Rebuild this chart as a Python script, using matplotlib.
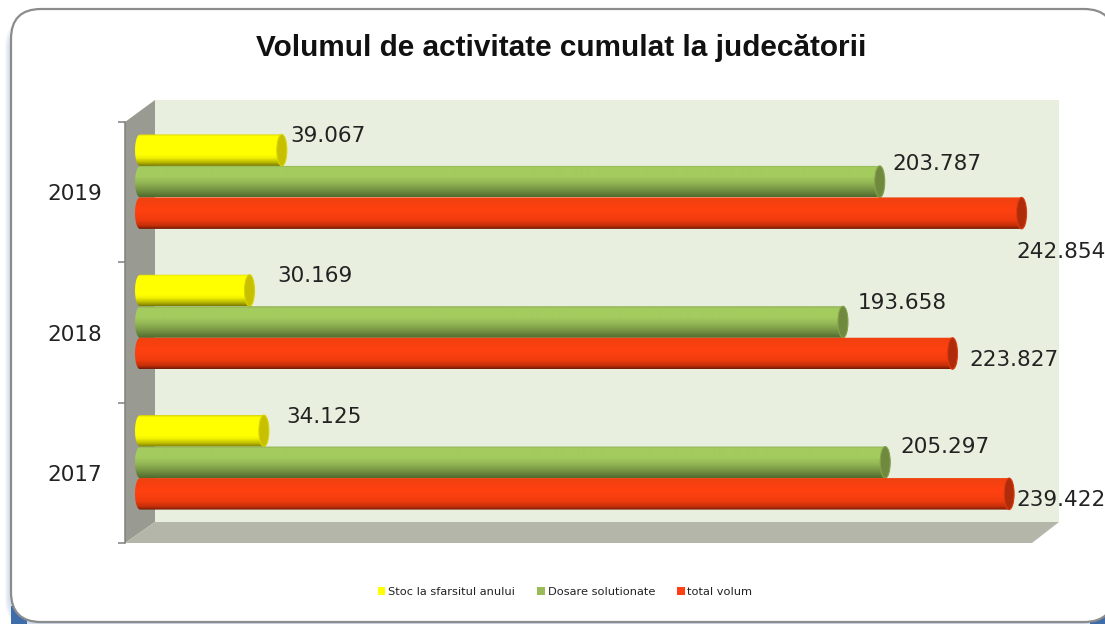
import numpy as np
import matplotlib
matplotlib.use('Agg')
import matplotlib.pyplot as plt
from matplotlib.colors import LinearSegmentedColormap
from matplotlib.patches import Ellipse, FancyBboxPatch, Patch, Polygon, Rectangle

years = ['2017', '2018', '2019']
series_names = ['Stoc la sfarsitul anului', 'Dosare solutionate', 'total volum']
stoc = [34125, 30169, 39067]
dosare = [205297, 193658, 203787]
total = [239422, 223827, 242854]
values = [stoc, dosare, total]

W, H = 1105, 624
title = 'Volumul de activitate cumulat la judecătorii'

# bottom to top shading of the cylinders
swatch = ['#FFFF00', '#9BBB59', '#FF3F0F']
shades = [
    [(0, '#7C7C00'), (0.1, '#B5B500'), (0.25, '#F0F000'), (0.35, '#FFFF00'), (0.94, '#FFFF00'), (1, '#D8D200')],
    [(0, '#4F6B2E'), (0.18, '#6F8C40'), (0.45, '#94B755'), (0.65, '#A3CB5E'), (0.94, '#A3CB5E'), (1, '#8CA850')],
    [(0, '#741C06'), (0.1, '#C42F0A'), (0.28, '#F03C0E'), (0.6, '#FF4110'), (1, '#F0400F')],
]
cap_color = ['#C6C000', '#6F8A3E', '#AE2C0A']
cap_rim = ['#DAD400', '#86A24C', '#E03A10']

# label offsets in pixels from the end of each bar (same order as the values)
label_dx = [[17, 23, 3], [10, 10, 7.5], [2, 12, -10.5]]
label_dy = [[13.5, 15, 14], [15, 19.5, 17.5], [-6.5, -6, -39]]

fig = plt.figure(figsize=(W / 100, H / 100), dpi=100)
plt.rcParams['font.family'] = ['DejaVu Sans']

# background layer in pixel coordinates: panel and 3d walls
bg = fig.add_axes([0, 0, 1, 1])
bg.set_xlim(0, W)
bg.set_ylim(H, 0)
bg.axis('off')

# soft blue shadow round the panel
for k in range(6):
    bg.add_patch(FancyBboxPatch((11 - k - 1, 22 - k), 1103 + 2 * k, 602 + 2 * k,
                                boxstyle='round,pad=0,rounding_size=30',
                                fc='#4F7FBA', ec='none', alpha=0.05))
bg.add_patch(Rectangle((11, 606), 16, 18, fc='#3F6DAA', ec='none'))
bg.add_patch(Rectangle((1090, 604), 15, 20, fc='#3F6DAA', ec='none'))
bg.add_patch(FancyBboxPatch((11, 9), 1103, 613,
                            boxstyle='round,pad=0,rounding_size=30',
                            fc='white', ec='#8C8C8C', lw=1.6))

bg.add_patch(Polygon([(155, 100), (1059, 100), (1059, 522), (155, 522)], fc='#E8EFDF', ec='none'))
bg.add_patch(Polygon([(125, 122), (155, 100), (155, 522), (125, 543)], fc='#999B92', ec='none'))
bg.add_patch(Polygon([(155, 522), (1059, 522), (1032, 543), (125, 543)], fc='#B3B6A8', ec='none'))

# data axes: x=0 sits at pixel 140
px_per_unit = 0.00363
ax = fig.add_axes([125 / W, 1 - 543 / H, (1059 - 125) / W, (543 - 122) / H])
ax.patch.set_alpha(0)
xlim = (-15 / px_per_unit, 919 / px_per_unit)
ylim = (-0.5, 2.5)

px_per_cat = (543 - 122) / 3
bar_h = 31.5 / px_per_cat
depth = 10.5 / px_per_cat
cap_w = 5 / px_per_unit

t = np.linspace(-np.pi / 2, np.pi / 2, 40)
grad = np.linspace(0, 1, 64).reshape(-1, 1)

for s in range(3):
    cmap = LinearSegmentedColormap.from_list('c%d' % s, shades[s])
    for i in range(3):
        v = values[s][i]
        y = i + depth + (1 - s) * bar_h
        top = y + bar_h / 2
        bottom = y - bar_h / 2
        outline = np.vstack([
            np.column_stack([v + cap_w * np.cos(t), y + bar_h / 2 * np.sin(t)]),
            np.column_stack([-cap_w * np.cos(t[::-1]), y + bar_h / 2 * np.sin(t[::-1])]),
        ])
        shape = Polygon(outline, transform=ax.transData, fc='none', ec='none')
        ax.add_patch(shape)
        im = ax.imshow(grad, cmap=cmap, origin='lower', aspect='auto',
                       extent=[-cap_w, v + cap_w, bottom, top], zorder=2 + s)
        im.set_clip_path(shape)
        ax.add_patch(Ellipse((v, y), 2 * cap_w, bar_h, fc=cap_color[s], ec=cap_rim[s],
                             lw=0.8, zorder=2 + s))
        ax.annotate(f'{v / 1000:.3f}', (v + cap_w, y),
                    xytext=(label_dx[s][i], label_dy[s][i]), textcoords='offset pixels',
                    ha='left', va='center', fontsize=15.5, color='#222222', zorder=10,
                    annotation_clip=False)

ax.set_xlim(xlim)
ax.set_ylim(ylim)
ax.set_xticks([])
ax.set_yticks([-0.5, 0.5, 1.5, 2.5])
ax.set_yticklabels([])
ax.set_yticks([0, 1, 2], minor=True)
ax.set_yticklabels(years, minor=True, fontsize=15.5, color='#222222')
ax.tick_params(axis='y', which='major', length=5, width=1.1, color='#808080')
ax.tick_params(axis='y', which='minor', length=0, pad=16.5)
for name in ['top', 'right', 'bottom']:
    ax.spines[name].set_visible(False)
ax.spines['left'].set_color('#808080')
ax.spines['left'].set_linewidth(1.1)

fig.text(561 / W, 1 - 48.5 / H, title, ha='center', va='center', fontsize=21.4,
         fontweight='bold', family='Liberation Sans', color='#111111')

handles = [Patch(fc=swatch[s], ec='none', label=series_names[s]) for s in range(3)]
fig.legend(handles=handles, loc='center', bbox_to_anchor=(565 / W, 1 - 592 / H), ncols=3,
           frameon=False, fontsize=8.2, handlelength=0.7, handleheight=0.7,
           handletextpad=0.25, columnspacing=1.9, labelcolor='#222222')

fig.savefig('out.png', dpi=100)
